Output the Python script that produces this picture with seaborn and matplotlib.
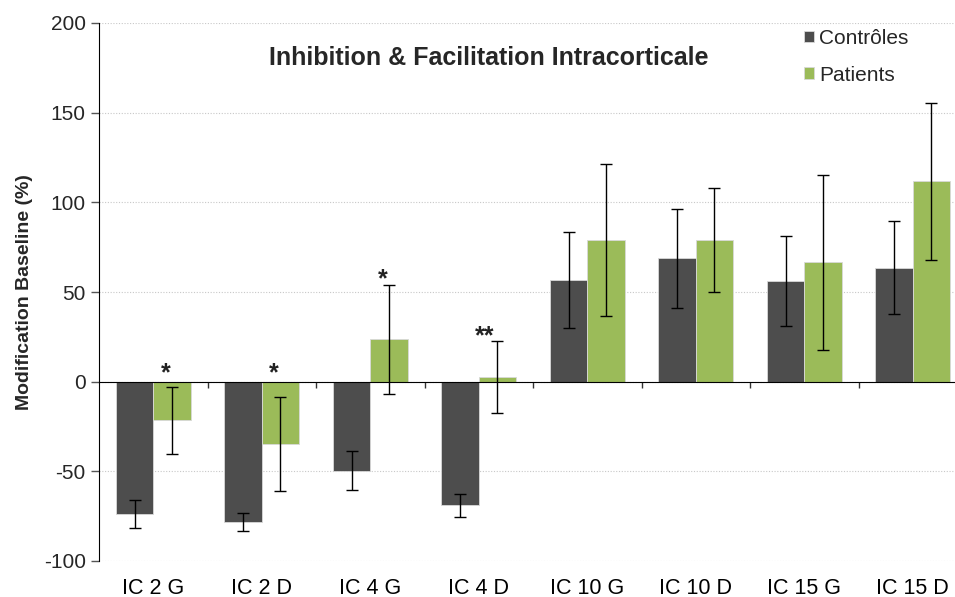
import seaborn as sns
import matplotlib.pyplot as plt
import pandas as pd

# values
categories = ["IC 2 G", "IC 2 D", "IC 4 G", "IC 4 D", "IC 10 G", "IC 10 D", "IC 15 G", "IC 15 D"]
controles = [-73.6, -78.3, -49.6, -69.0, 56.7, 68.8, 56.1, 63.6]
controles_err = [7.8, 4.8, 11.0, 6.2, 26.7, 27.5, 25.0, 26.0]
patients = [-21.6, -34.8, 23.6, 2.4, 79.0, 79.0, 66.5, 111.7]
patients_err = [18.6, 26.3, 30.4, 20.0, 42.5, 29.0, 48.6, 43.6]
signif = ["*", "*", "*", "**", "", "", "", ""]
groups = ["Contrôles", "Patients"]
colors = ["#4d4d4d", "#9bbb59"]

df = pd.DataFrame({
    "cond": categories * 2,
    "value": controles + patients,
    "group": [groups[0]] * len(categories) + [groups[1]] * len(categories),
})

sns.set_style("white")
plt.rcParams["font.family"] = ["Liberation Sans", "DejaVu Sans"]
plt.rcParams["axes.unicode_minus"] = False

fig = plt.figure(figsize=(9.55, 5.97), dpi=100)
ax = fig.add_axes([99 / 955, 36 / 597, 868 / 955, 538 / 597])

sns.barplot(data=df, x="cond", y="value", hue="group", palette=colors,
            width=0.69, errorbar=None, ax=ax, saturation=1,
            edgecolor="#d9d9d9", linewidth=0.6)

# error bars centred on the drawn bars
for cont, errs in zip(ax.containers, [controles_err, patients_err]):
    xs = [b.get_x() + b.get_width() / 2 for b in cont]
    ys = [b.get_height() for b in cont]
    ax.errorbar(xs, ys, yerr=errs, fmt="none", ecolor="black",
                elinewidth=1, capsize=4.5, capthick=1, zorder=5)

# significance stars above the patients bars
for b, s, e in zip(ax.containers[1], signif, patients_err):
    if s:
        h = b.get_height()
        base = h + e - 1 if h > 0 else 1
        xc = b.get_x() + b.get_width() / 2 - 0.06 * len(s)
        ax.text(xc, base, s, ha="center", va="baseline",
                fontsize=18, fontweight="bold", color="#222222")

ax.set_ylim(-100, 200)
ax.set_xlim(-0.5, len(categories) - 0.5)
ax.set_yticks(range(-100, 201, 50))
ax.yaxis.grid(True, linestyle=(0, (1, 1.5)), color="#c8c8c8", linewidth=0.8)
ax.set_axisbelow(True)

ax.spines["top"].set_visible(False)
ax.spines["right"].set_visible(False)
ax.spines["bottom"].set_position(("data", 0))
ax.spines["bottom"].set_color("black")
ax.spines["left"].set_color("black")

ax.set_xticks(range(len(categories)))
ax.set_xticklabels(categories)
ax.set_xticks([i + 0.5 for i in range(len(categories))], minor=True)
ax.tick_params(axis="x", which="major", length=0, pad=141, labelsize=15.5, colors="black")
ax.tick_params(axis="x", which="minor", length=4.5, width=1, direction="out", color="#333333", bottom=True)
ax.tick_params(axis="y", length=6, width=1, direction="out", color="#555555", labelsize=15, left=True)

ax.set_xlabel("")
ax.set_ylabel("Modification Baseline (%)", fontsize=14, fontweight="bold", labelpad=8)

ax.text(0.449, 0.935, "Inhibition & Facilitation Intracorticale", transform=ax.transAxes,
        ha="center", va="center", fontsize=18, fontweight="bold")

ax.legend(loc="upper left", bbox_to_anchor=(0.822, 0.983), bbox_transform=fig.transFigure,
          frameon=False, fontsize=15, handlelength=0.5, handleheight=0.5,
          handletextpad=0.25, labelspacing=0.85)

fig.savefig("out.png", dpi=100)
